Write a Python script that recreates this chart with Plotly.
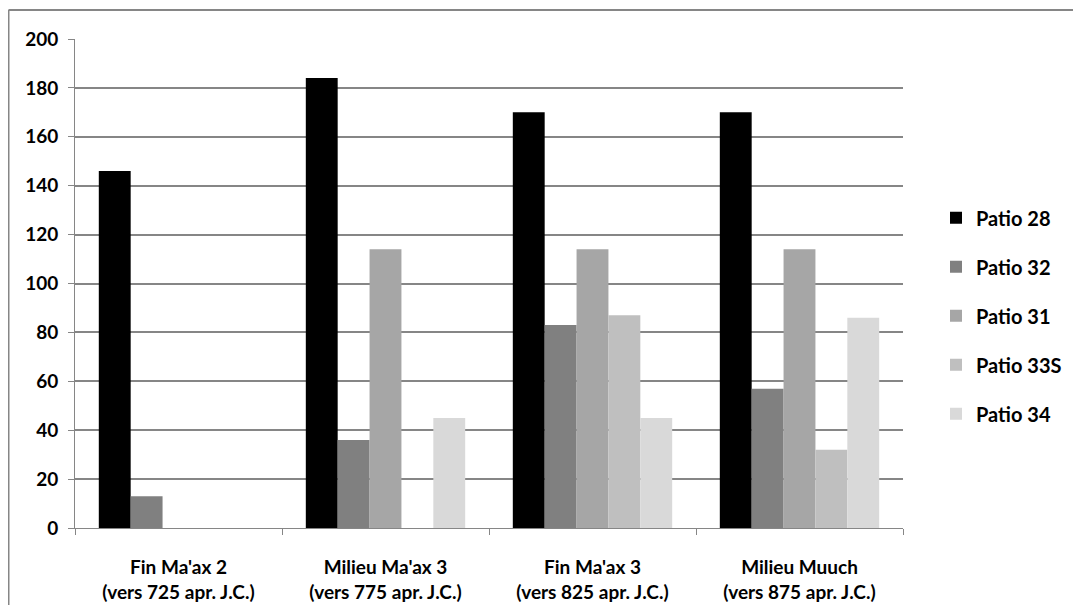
import plotly.graph_objects as go

categories = ["Fin Ma'ax 2<br>(vers 725 apr. J.C.)",
              "Milieu Ma'ax 3<br>(vers 775 apr. J.C.)",
              "Fin Ma'ax 3<br>(vers 825 apr. J.C.)",
              "Milieu Muuch<br>(vers 875 apr. J.C.)"]
series_names = ["Patio 28", "Patio 32", "Patio 31", "Patio 33S", "Patio 34"]
patio_28 = [146, 184, 170, 170]
patio_32 = [13, 36, 83, 57]
patio_31 = [0, 114, 114, 114]
patio_33s = [0, 0, 87, 32]
patio_34 = [0, 45, 45, 86]
y_ticks = [0, 20, 40, 60, 80, 100, 120, 140, 160, 180, 200]

series_values = [patio_28, patio_32, patio_31, patio_33s, patio_34]
colors = ["#000000", "#808080", "#A6A6A6", "#BFBFBF", "#D9D9D9"]

FONT = "Lato"

fig = go.Figure()
for name, vals, col in zip(series_names, series_values, colors):
    fig.add_trace(go.Bar(x=categories, y=vals, name=name, legendgroup=name,
                         marker=dict(color=col, line=dict(width=0))))

# the page body adds an 8px offset; figure coordinates are shifted accordingly
OFF = 8
W, H = 1081 - OFF, 605 - OFF
l, t = 75 - OFF, 39 - OFF
pw = 903 - 75
ph = 488.7
r = W - l - pw
b = H - t - ph


def px_x(fx):
    return (fx - l) / pw


def px_y(fy):
    return (H - b - fy) / ph


border = dict(color="#868686", width=2)

fig.update_layout(
    width=W, height=H,
    margin=dict(l=l, r=r, t=t, b=b, autoexpand=False),
    paper_bgcolor="white", plot_bgcolor="white",
    barmode="group", bargap=0.23, bargroupgap=0,
    font=dict(family=FONT, color="#000000", size=19),
    showlegend=True,
    legend=dict(x=(936 - 75) / pw, xanchor="left", y=0.434, yanchor="middle",
                font=dict(family=FONT, size=20, color="#000000", weight="bold"),
                tracegroupgap=20, itemwidth=30, bgcolor="rgba(0,0,0,0)"),
    xaxis=dict(showline=True, linecolor="#868686", linewidth=1, automargin=False,
               ticks="outside", tickson="boundaries", ticklen=6, tickcolor="#868686",
               ticklabelstandoff=22,
               tickfont=dict(family=FONT, size=19, weight="bold", color="#000000"),
               showgrid=False),
    yaxis=dict(range=[0, 200], tickvals=y_ticks, showline=True, linecolor="#868686",
               linewidth=1, ticks="outside", ticklen=6, tickcolor="#868686",
               ticklabelstandoff=6, automargin=False,
               showgrid=True, gridcolor="#868686", gridwidth=1.5,
               tickfont=dict(family=FONT, size=19, weight="bold", color="#000000"),
               zeroline=False),
    shapes=[
        dict(type="line", xref="paper", yref="paper",
             x0=px_x(0.5), x1=px_x(W + 10), y0=px_y(2), y1=px_y(2),
             line=border, layer="below"),
        dict(type="line", xref="paper", yref="paper",
             x0=px_x(0.5), x1=px_x(0.5), y0=px_y(2), y1=px_y(H + 10),
             line=border, layer="below"),
    ],
)

fig.write_html("out.html")
